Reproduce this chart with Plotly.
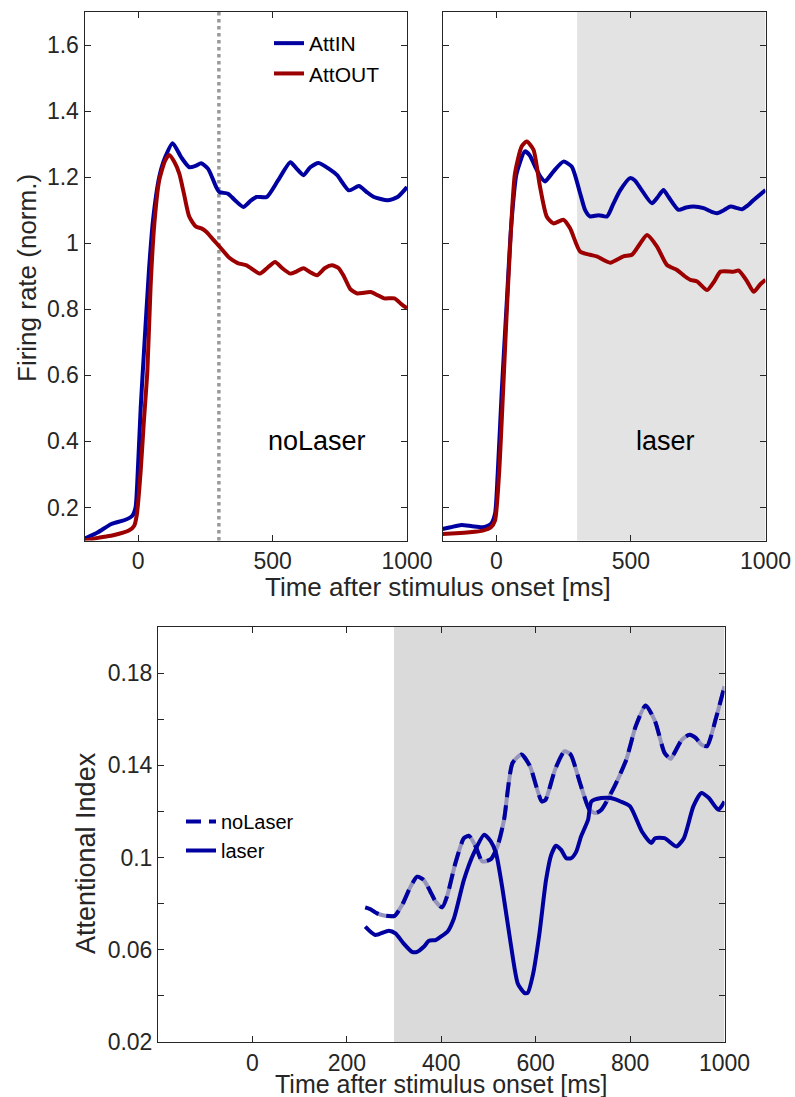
import plotly.graph_objects as go

# ---------------- data ----------------
# Top-left panel (noLaser)
nl_in_t = [-200, -150, -100, -50, -22, -10, -4, 9, 21, 40, 55, 78, 100, 128, 160, 190, 215, 234, 260, 290, 302,
           334, 360, 391, 420, 440, 478, 520, 566, 590, 615, 640, 671, 710, 740, 784, 821, 850, 877, 928, 965, 1000]
nl_in_v = [0.105, 0.125, 0.15, 0.162, 0.175, 0.2, 0.27, 0.5, 0.667, 0.92, 1.07, 1.2, 1.26, 1.303, 1.26, 1.23, 1.235,
           1.242, 1.225, 1.17, 1.155, 1.15, 1.13, 1.11, 1.13, 1.14, 1.14, 1.19, 1.245, 1.225, 1.206, 1.23, 1.243,
           1.225, 1.206, 1.16, 1.173, 1.155, 1.14, 1.13, 1.14, 1.17]
nl_out_t = [-200, -150, -97, -35, -15, -5, 9, 20, 34, 46, 60, 78, 100, 115, 135, 153, 170, 190, 215, 235, 253, 280,
            302, 340, 370, 403, 453, 480, 509, 535, 566, 590, 615, 640, 665, 695, 721, 745, 765, 790, 815, 840, 865,
            890, 915, 953, 980, 1000]
nl_out_v = [0.1, 0.108, 0.115, 0.13, 0.145, 0.18, 0.31, 0.45, 0.615, 0.87, 1.06, 1.19, 1.25, 1.267, 1.245, 1.21,
            1.15, 1.08, 1.05, 1.045, 1.035, 1.01, 0.99, 0.955, 0.94, 0.933, 0.908, 0.925, 0.943, 0.925, 0.908, 0.915,
            0.924, 0.912, 0.903, 0.925, 0.933, 0.925, 0.9, 0.86, 0.848, 0.85, 0.852, 0.843, 0.833, 0.833, 0.815, 0.803]

# Top-right panel (laser)
l_in_t = [-200, -170, -130, -90, -50, -20, -5, 5, 20, 38, 55, 75, 106, 125, 144, 165, 181, 212, 249, 280, 311, 330,
          348, 380, 411, 435, 460, 497, 515, 535, 578, 600, 621, 640, 677, 705, 733, 770, 800, 820, 845, 870, 913,
          935, 956, 1000]
l_in_v = [0.135, 0.14, 0.147, 0.143, 0.14, 0.15, 0.18, 0.3, 0.55, 0.81, 1.05, 1.21, 1.278, 1.265, 1.232, 1.2, 1.187,
          1.217, 1.247, 1.232, 1.152, 1.1, 1.081, 1.085, 1.081, 1.12, 1.16, 1.197, 1.19, 1.167, 1.121, 1.14, 1.161,
          1.14, 1.101, 1.108, 1.111, 1.106, 1.095, 1.091, 1.1, 1.111, 1.103, 1.115, 1.131, 1.161]
l_out_t = [-200, -150, -100, -50, -20, -5, 10, 25, 38, 55, 69, 94, 113, 138, 162, 187, 212, 249, 274, 311, 348, 373,
           423, 472, 504, 535, 560, 597, 634, 671, 700, 721, 746, 783, 810, 833, 882, 901, 932, 956, 980, 1000]
l_out_v = [0.12, 0.122, 0.125, 0.13, 0.14, 0.16, 0.3, 0.55, 0.78, 1.05, 1.21, 1.293, 1.308, 1.283, 1.172, 1.081,
           1.06, 1.071, 1.045, 0.975, 0.965, 0.96, 0.941, 0.96, 0.965, 1.0, 1.025, 0.99, 0.934, 0.919, 0.9, 0.889,
           0.884, 0.858, 0.885, 0.914, 0.914, 0.917, 0.884, 0.853, 0.875, 0.889]

# Bottom panel: attentional index
ai_nl_t = [239, 250, 264, 281, 301, 317, 335, 349, 363, 377, 388, 402, 412, 430, 448, 459, 473, 487, 505, 519, 533,
           551, 570, 588, 613, 621, 641, 661, 674, 694, 714, 727, 739, 767, 792, 812, 833, 853, 873, 886, 894, 910,
           926, 939, 951, 963, 983, 1000]
ai_nl_v = [0.0784, 0.0776, 0.0758, 0.0748, 0.0747, 0.0794, 0.0874, 0.0917, 0.0903, 0.0852, 0.0809, 0.0784, 0.083,
           0.0976, 0.1084, 0.1094, 0.1048, 0.0983, 0.0993, 0.1048, 0.1164, 0.141, 0.1447, 0.1396, 0.1243, 0.1251,
           0.1381, 0.1461, 0.1447, 0.1323, 0.1207, 0.1193, 0.1207, 0.1309, 0.1425, 0.157, 0.166, 0.1591, 0.1454,
           0.1428, 0.1454, 0.1512, 0.1533, 0.1519, 0.149, 0.1483, 0.1613, 0.1743]
ai_l_t = [239, 260, 289, 303, 320, 338, 349, 363, 374, 388, 399, 413, 427, 448, 469, 491, 505, 516, 530, 547, 562,
          576, 583, 594, 608, 622, 633, 643, 654, 665, 675, 686, 696, 711, 718, 739, 759, 780, 800, 825, 845, 853,
          873, 898, 914, 934, 951, 967, 987, 1000]
ai_l_v = [0.07, 0.0664, 0.0683, 0.0671, 0.0628, 0.0591, 0.0591, 0.0613, 0.0639, 0.0642, 0.0657, 0.0678, 0.0737,
          0.0903, 0.1019, 0.1099, 0.107, 0.1019, 0.086, 0.0628, 0.0454, 0.0413, 0.0413, 0.049, 0.0671, 0.0903, 0.1012,
          0.1051, 0.1033, 0.0997, 0.0997, 0.1026, 0.1091, 0.1164, 0.1243, 0.1258, 0.1258, 0.1243, 0.1222, 0.1113,
          0.1063, 0.1084, 0.1084, 0.1048, 0.1084, 0.1222, 0.128, 0.1258, 0.1207, 0.1243]

laser_onset = 300
t_end = 1000

fr_ticks = [0.2, 0.4, 0.6, 0.8, 1.0, 1.2, 1.4, 1.6]
fr_labels = ["0.2", "0.4", "0.6", "0.8", "1", "1.2", "1.4", "1.6"]
time_ticks_top = [0, 500, 1000]
time_ticks_bot = [-200, 0, 200, 400, 600, 800, 1000]
time_labels_bot = ["", "0", "200", "400", "600", "800", "1000"]
ai_ticks = [0.02, 0.04, 0.06, 0.08, 0.1, 0.12, 0.14, 0.16, 0.18]
ai_labels = ["0.02", "", "0.06", "", "0.1", "", "0.14", "", "0.18"]

# ---------------- styling ----------------
W, H = 795, 1097
BLUE = "#0000a0"
RED = "#9c0000"
AX = "#262626"
FONT = "Liberation Sans, Arial, sans-serif"
LW = 4


def px_x(a, b):
    return [a / W, b / W]


def px_y(top, bottom):
    return [1 - bottom / H, 1 - top / H]


fig = go.Figure()
sp = dict(shape="spline", smoothing=0.6)

fig.add_trace(go.Scatter(x=nl_in_t, y=nl_in_v, mode="lines", name="AttIN",
                         line=dict(color=BLUE, width=LW, **sp), xaxis="x", yaxis="y", legend="legend"))
fig.add_trace(go.Scatter(x=nl_out_t, y=nl_out_v, mode="lines", name="AttOUT",
                         line=dict(color=RED, width=LW, **sp), xaxis="x", yaxis="y", legend="legend"))
fig.add_trace(go.Scatter(x=l_in_t, y=l_in_v, mode="lines", showlegend=False,
                         line=dict(color=BLUE, width=LW, **sp), xaxis="x2", yaxis="y2"))
fig.add_trace(go.Scatter(x=l_out_t, y=l_out_v, mode="lines", showlegend=False,
                         line=dict(color=RED, width=LW, **sp), xaxis="x2", yaxis="y2"))

# bottom panel
fig.add_trace(go.Scatter(x=ai_nl_t, y=ai_nl_v, mode="lines", showlegend=False,
                         line=dict(color="#9494bc", width=LW, **sp), xaxis="x3", yaxis="y3"))
fig.add_trace(go.Scatter(x=ai_nl_t, y=ai_nl_v, mode="lines", name="noLaser",
                         line=dict(color=BLUE, width=LW, dash="15px,8px", **sp), xaxis="x3", yaxis="y3",
                         legend="legend2"))
fig.add_trace(go.Scatter(x=ai_l_t, y=ai_l_v, mode="lines", name="laser",
                         line=dict(color=BLUE, width=LW, **sp), xaxis="x3", yaxis="y3", legend="legend2"))

axis_common = dict(showgrid=False, zeroline=False, showline=True, linecolor=AX, linewidth=1,
                   ticks="inside", ticklen=6, tickcolor=AX, mirror="ticks", automargin=False,
                   tickfont=dict(family=FONT, size=23, color=AX))

fig.update_layout(
    width=W, height=H, autosize=False,
    margin=dict(l=0, r=0, t=0, b=0, pad=0, autoexpand=False),
    paper_bgcolor="white", plot_bgcolor="rgba(0,0,0,0)",
    font=dict(family=FONT, color=AX),
    xaxis=dict(domain=px_x(84.5, 407), range=[-200, t_end], tickvals=time_ticks_top, anchor="y", **axis_common),
    yaxis=dict(domain=px_y(12, 540.5), range=[0.1, 1.7], tickvals=fr_ticks, ticktext=fr_labels, anchor="x",
               **axis_common),
    xaxis2=dict(domain=px_x(442.5, 765.5), range=[-200, t_end], tickvals=time_ticks_top, anchor="y2",
                **axis_common),
    yaxis2=dict(domain=px_y(12, 540.5), range=[0.1, 1.7], tickvals=fr_ticks, showticklabels=False, anchor="x2",
                **axis_common),
    xaxis3=dict(domain=px_x(158, 724.5), range=[-200, t_end], tickvals=time_ticks_bot, ticktext=time_labels_bot,
                anchor="y3", **axis_common),
    yaxis3=dict(domain=px_y(627, 1042), range=[0.02, 0.2], tickvals=ai_ticks, ticktext=ai_labels, anchor="x3",
                **axis_common),
    legend=dict(x=269 / W, y=1 - 23 / H, xanchor="left", yanchor="top", bgcolor="rgba(0,0,0,0)",
                font=dict(family=FONT, size=21, color="black"), tracegroupgap=0),
    legend2=dict(x=181 / W, y=1 - 802 / H, xanchor="left", yanchor="top", bgcolor="rgba(0,0,0,0)",
                 font=dict(family=FONT, size=20, color="black"), tracegroupgap=0),
)

shapes = [
    dict(type="rect", xref="x2", yref="y2 domain", x0=laser_onset, x1=t_end, y0=0, y1=1,
         fillcolor="#e3e3e3", line=dict(width=0), layer="below"),
    dict(type="rect", xref="x3", yref="y3 domain", x0=laser_onset, x1=t_end, y0=0, y1=1,
         fillcolor="#dadada", line=dict(width=0), layer="below"),
    dict(type="line", xref="x", yref="y domain", x0=laser_onset, x1=laser_onset, y0=0, y1=1,
         line=dict(color="#9a9a9a", width=3.5, dash="dot"), layer="below"),
]
fig.update_layout(shapes=shapes)

ann = [
    dict(text="Firing rate (norm.)", x=27 / W, y=1 - 278 / H, textangle=-90, size=26),
    dict(text="Time after stimulus onset [ms]", x=438 / W, y=1 - 587 / H, textangle=0, size=26),
    dict(text="Attentional Index", x=86 / W, y=1 - 853 / H, textangle=-90, size=27),
    dict(text="Time after stimulus onset [ms]", x=441 / W, y=1 - 1084 / H, textangle=0, size=25),
    dict(text="noLaser", x=317 / W, y=1 - 441 / H, textangle=0, size=27, color="black"),
    dict(text="laser", x=665 / W, y=1 - 441 / H, textangle=0, size=27, color="black"),
]
fig.update_layout(annotations=[
    dict(text=a["text"], x=a["x"], y=a["y"], xref="paper", yref="paper", xanchor="center", yanchor="middle",
         textangle=a["textangle"], showarrow=False,
         font=dict(family=FONT, size=a["size"], color=a.get("color", AX)))
    for a in ann
])

fig.write_html("out.html", config={"displayModeBar": False},
               post_script="document.body.style.margin='0';document.body.style.overflow='hidden';")
